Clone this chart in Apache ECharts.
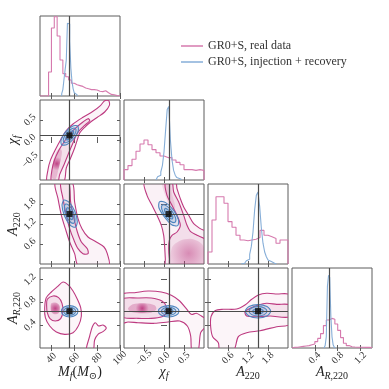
<!DOCTYPE html>
<html>
<head>
<meta charset="utf-8">
<script src="https://cdn.jsdelivr.net/npm/echarts@6/dist/echarts.min.js"></script>
<style>
html, body { margin: 0; padding: 0; background: #fff; }
#main { width: 389px; height: 389px; }
</style>
</head>
<body>
<div id="main"></div>
<script>
// parameters: M_f, chi_f, A_220, A_R,220
const paramRanges = [[30, 100], [-1, 1], [0, 2.4], [0, 1.4]];
const paramTicks = [[40, 60, 80, 100], [-0.5, 0, 0.5], [0.6, 1.2, 1.8], [0.4, 0.8, 1.2]];
const truthValues = [55.8, 0.115, 1.5, 0.645];

// 1D histograms, heights in % of panel height
const mfRealStart = 30, mfRealWidth = 2.5;
const mfRealCounts = [0, 0, 0, 30, 85, 99, 75, 45, 28, 24, 20, 16, 14, 13, 12, 10, 9, 8, 8, 7.5, 6, 5.5, 6.5, 4, 2, 1.5, 0.5, 0.3];
const mfInjStart = 49, mfInjWidth = 1;
const mfInjCounts = [3, 8, 21, 33, 45, 91, 90, 68, 35, 18, 9, 4, 2, 0.5];

const chiRealStart = -1, chiRealWidth = 0.1;
const chiRealCounts = [13, 18, 26, 36, 45, 50, 44, 38, 34, 30, 28, 28, 25, 22, 19, 13, 13, 12, 13, 12];
const chiInjStart = -0.2, chiInjWidth = 0.04;
const chiInjCounts = [2, 4, 6, 10, 18, 35, 62, 88, 92, 50, 25, 12, 6, 3, 1.5, 0.5];

const a220RealStart = 0, a220RealWidth = 0.12;
const a220RealCounts = [15, 55, 84, 84, 76, 53, 46, 36, 30, 29, 30, 31, 33, 42, 36, 34, 32, 26, 30, 30];
const a220InjStart = 1.0, a220InjWidth = 0.05;
const a220InjCounts = [0.5, 1, 2, 4, 6, 12, 22, 40, 68, 86, 90, 72, 45, 26, 15, 9, 5, 3, 2, 1, 0.5];

const arRealStart = 0, arRealWidth = 0.05;
const arRealCounts = [1, 1, 1.5, 2, 2.5, 3, 4, 5, 8, 12, 18, 28, 35, 37, 36, 30, 22, 13, 6, 3, 1.5, 1.2, 1, 1, 1, 0.8, 0.8, 0.5];
const arInjStart = 0.56, arInjWidth = 0.02;
const arInjCounts = [1, 3, 14, 77, 91, 88, 40, 14, 4, 1];

// 2D contours (data coordinates)
// M_f vs chi_f
const realOuter10 = [[36.4,-1.05],[37.0,-0.742],[39.3,-0.492],[43.4,-0.242],[48.1,0.008],[53.0,0.233],[58.9,0.4],[67.6,0.567],[76.4,0.717],[83.1,0.867],[86.6,0.983],[90.1,0.983],[90.7,0.867],[86.6,0.7],[80.2,0.567],[74.3,0.45],[69.1,0.317],[64.7,0.175],[62.7,0.008],[60.3,-0.2],[56.8,-0.45],[53.0,-0.7],[50.6,-1.05]];
const realMid10 = [[39.9,-1.05],[40.5,-0.742],[42.8,-0.492],[46.3,-0.267],[51.0,-0.05],[56.0,0.15],[61.8,0.317],[67.6,0.45],[72.0,0.533],[73.5,0.483],[69.1,0.367],[63.8,0.217],[60.9,0.067],[58.0,-0.133],[54.5,-0.367],[51.0,-0.617],[47.2,-0.867],[45.5,-1.05]];
const realCore10 = [[40.5,-0.95],[41.0,-0.617],[43.8,-0.33],[47.5,-0.2],[49.2,-0.3],[47.6,-0.56],[45.6,-0.8],[43.6,-0.98]];
const injOuter10 = [[62.9,0.352],[63.4,0.2225],[59.5,0.031],[53.6,-0.111],[49.0,-0.119],[48.5,0.011],[52.4,0.2025],[58.35,0.344]];
const injMid10 = [[61.0,0.289],[61.3,0.197],[58.4,0.0575],[54.1,-0.053],[50.9,-0.056],[50.6,0.037],[53.5,0.176],[57.8,0.28]];
const injInner10 = [[59.15,0.225],[59.24,0.168],[57.4,0.082],[54.7,0.015],[52.8,0.008],[52.7,0.065],[54.5,0.152],[57.2,0.218]];

// M_f vs A_220
const realOuter20 = [[43.4,2.45],[45.75,1.96],[48.7,1.46],[52.2,1.06],[55.96,0.66],[60.3,0.31],[63.8,-0.05],[90.1,-0.05],[88.9,0.31],[86.0,0.51],[79.3,0.66],[72.0,0.81],[66.75,1.06],[63.25,1.36],[60.3,1.86],[58.0,2.45]];
const realMid20 = [[48.1,2.45],[50.1,1.96],[53.0,1.46],[55.96,1.06],[59.75,0.71],[63.25,0.46],[67.6,0.31],[72.0,0.31],[71.4,0.46],[66.2,0.66],[62.7,0.96],[59.75,1.36],[56.8,1.86],[55.1,2.45]];
const injOuter20 = [[60.83,1.103],[62.64,1.2675],[60.54,1.574],[55.75,1.8435],[51.09,1.917],[49.28,1.7525],[51.38,1.446],[56.16,1.1765]];
const injMid20 = [[59.4,1.223],[60.67,1.339],[59.2,1.5555],[55.83,1.745],[52.53,1.797],[51.25,1.681],[52.72,1.4645],[56.09,1.275]];
const injInner20 = [[58.06,1.334],[58.78,1.4047],[57.85,1.5365],[55.81,1.6527],[53.86,1.686],[53.14,1.6153],[54.07,1.4835],[56.11,1.3673]];

// M_f vs A_R,220
const realOuter30 = [[50.1,1.155],[55.1,1.097],[58.9,0.997],[62.7,0.852],[65.6,0.706],[66.2,0.56],[63.8,0.396],[58.9,0.268],[51.6,0.239],[44.3,0.28],[38.5,0.385],[34.7,0.53],[34.1,0.706],[35.5,0.881],[39.9,0.98],[45.2,1.073]];
const realInner30 = [[36.4,0.852],[41.4,0.91],[46.3,0.881],[49.25,0.782],[50.1,0.647],[48.1,0.513],[43.4,0.472],[38.75,0.513],[36.4,0.618],[35.8,0.735]];
const realCore30 = [[39.9,0.782],[44.3,0.793],[47.2,0.735],[46.6,0.618],[42.8,0.589],[39.9,0.63],[39.3,0.706]];
const realHook30 = [[70.5,-0.05],[73.5,0.21],[75.8,0.373],[78.4,0.443],[81.3,0.385],[85.1,0.402],[88.0,0.35],[85.1,0.286],[80.75,0.239],[77.8,0.14],[76.4,-0.05]];
const injOuter30 = [[63.25,0.642],[61.1,0.572],[55.96,0.542],[50.8,0.572],[48.7,0.642],[50.8,0.712],[55.96,0.741],[61.1,0.712]];
const injMid30 = [[61.2,0.642],[59.66,0.592],[55.96,0.572],[52.25,0.592],[50.7,0.642],[52.25,0.691],[55.96,0.712],[59.66,0.691]];
const injInner30 = [[59.2,0.642],[58.23,0.611],[55.96,0.598],[53.7,0.611],[52.75,0.642],[53.7,0.672],[55.96,0.685],[58.23,0.672]];

// chi_f vs A_220
const realOuter21 = [[-0.483,2.45],[-0.425,2.06],[-0.3,1.76],[-0.175,1.46],[-0.067,1.16],[-0.008,0.86],[0.017,0.51],[0.033,0.16],[0.05,-0.05],[1.05,-0.05],[1.05,0.96],[0.908,1.06],[0.742,1.21],[0.617,1.46],[0.492,1.71],[0.408,1.96],[0.325,2.26],[0.283,2.45]];
const realMid21 = [[0.033,2.45],[0.075,2.06],[0.2,1.76],[0.325,1.46],[0.408,1.16],[0.325,0.96],[0.2,0.86],[0.133,0.71],[0.117,0.46],[0.133,0.16],[0.158,-0.05],[1.05,-0.05],[1.05,0.71],[0.825,0.86],[0.658,0.98],[0.575,1.16],[0.492,1.46],[0.367,1.86],[0.242,2.16],[0.2,2.45]];
const realBlob21 = [[0.2,-0.05],[0.2,0.5],[0.4,0.7],[0.7,0.75],[0.95,0.6],[1.05,0.3],[1.05,-0.05]];
const realBand21 = [[-0.05,2.45],[0.05,2.0],[0.2,1.6],[0.28,1.7],[0.2,2.1],[0.15,2.45]];
const injOuter21 = [[0.342,1.15],[0.3607,1.332],[0.237,1.618],[0.0423,1.841],[-0.108,1.87],[-0.127,1.688],[0.0167,1.402],[0.191,1.179]];
const injMid21 = [[0.277,1.254],[0.289,1.382],[0.2,1.585],[0.0625,1.744],[-0.043,1.766],[-0.055,1.638],[0.033,1.435],[0.171,1.276]];
const injInner21 = [[0.212,1.358],[0.217,1.432],[0.163,1.552],[0.0825,1.647],[0.022,1.662],[0.0165,1.588],[0.07,1.468],[0.151,1.373]];

// chi_f vs A_R,220
const realOuter31 = [[-1.05,0.933],[-0.733,0.968],[-0.4,0.997],[-0.067,0.98],[0.183,0.922],[0.392,0.822],[0.558,0.688],[0.683,0.589],[0.808,0.607],[0.933,0.56],[1.05,0.5],[1.05,0.385],[0.917,0.268],[0.85,-0.05],[0.7,-0.05],[0.667,0.21],[0.583,0.385],[0.392,0.472],[0.1,0.455],[-0.233,0.432],[-0.65,0.443],[-0.9,0.455],[-1.05,0.443]];
const realInner31 = [[-1.05,0.852],[-0.65,0.875],[-0.317,0.875],[-0.05,0.822],[0.058,0.723],[0.058,0.607],[-0.05,0.548],[-0.317,0.519],[-0.65,0.519],[-1.05,0.548]];
const realCore31 = [[-0.775,0.764],[-0.483,0.782],[-0.233,0.747],[-0.192,0.677],[-0.317,0.618],[-0.567,0.607],[-0.817,0.63],[-0.9,0.688]];
const injOuter31 = [[0.375,0.642],[0.3,0.572],[0.117,0.543],[-0.066,0.572],[-0.141,0.642],[-0.066,0.712],[0.117,0.741],[0.3,0.712]];
const injMid31 = [[0.3,0.642],[0.247,0.593],[0.117,0.572],[-0.013,0.593],[-0.066,0.642],[-0.013,0.692],[0.117,0.712],[0.247,0.692]];
const injInner31 = [[0.225,0.642],[0.194,0.611],[0.117,0.598],[0.04,0.611],[0.009,0.642],[0.04,0.673],[0.117,0.686],[0.194,0.673]];

// A_220 vs A_R,220
const realOuter32 = [[2.45,0.927],[2.06,0.945],[1.76,0.957],[1.51,0.927],[1.31,0.852],[1.11,0.752],[0.86,0.682],[0.46,0.677],[0.21,0.653],[0.09,0.548],[0.08,0.373],[0.14,0.198],[0.31,0.093],[0.36,-0.05],[0.76,-0.05],[0.91,0.198],[1.16,0.268],[1.56,0.303],[2.06,0.373],[2.45,0.42]];
const realInner32 = [[2.45,0.752],[2.06,0.764],[1.76,0.782],[1.51,0.752],[1.26,0.694],[1.11,0.636],[1.16,0.56],[1.46,0.548],[1.86,0.56],[2.45,0.548]];
const injOuter32 = [[1.88,0.642],[1.769,0.56],[1.5,0.525],[1.231,0.56],[1.12,0.642],[1.231,0.725],[1.5,0.759],[1.769,0.725]];
const injMid32 = [[1.77,0.642],[1.691,0.584],[1.5,0.56],[1.309,0.584],[1.23,0.642],[1.309,0.7],[1.5,0.724],[1.691,0.7]];
const injInner32 = [[1.66,0.642],[1.613,0.609],[1.5,0.595],[1.387,0.609],[1.34,0.642],[1.387,0.675],[1.5,0.689],[1.613,0.675]];

const REAL_NAME = 'GR0+S, real data';
const INJ_NAME = 'GR0+S, injection + recovery';

// colours / fonts
const PINK = '#bd3a80', PINK_HIST = '#d67aae', BLUE = '#4d86c0', BLUE_HIST = '#86aed8';
const TRUTH = '#4a4a4a', FRAME = '#5c5c5c';
const SERIF = '"Liberation Serif", "DejaVu Serif", serif';
const pinkA = a => 'rgba(189,58,128,' + a + ')';
const blueA = a => 'rgba(77,134,192,' + a + ')';
const softPink = (a0, a1) => ({ type: 'radial', x: 0.5, y: 0.5, r: 0.65,
  colorStops: [{ offset: 0, color: pinkA(a0) }, { offset: 1, color: pinkA(a1) }] });

function injShapes(o, m, i) {
  return [
    { pts: o, fill: blueA(0.12), stroke: BLUE },
    { pts: m, fill: blueA(0.16), stroke: BLUE },
    { pts: i, fill: blueA(0.3), stroke: BLUE }
  ];
}
const panelShapes = {
  '10': [
    { pts: realOuter10, fill: pinkA(0.06), stroke: PINK },
    { pts: realMid10, fill: pinkA(0.1), stroke: PINK },
    { pts: realCore10, fill: softPink(0.95, 0.25) }
  ].concat(injShapes(injOuter10, injMid10, injInner10)),
  '20': [
    { pts: realOuter20, fill: pinkA(0.06), stroke: PINK },
    { pts: realMid20, fill: pinkA(0.08), stroke: PINK }
  ].concat(injShapes(injOuter20, injMid20, injInner20)),
  '30': [
    { pts: realOuter30, fill: pinkA(0.05), stroke: PINK },
    { pts: realInner30, fill: pinkA(0.12), stroke: PINK },
    { pts: realCore30, fill: softPink(0.95, 0.3) },
    { pts: realHook30, fill: pinkA(0.03), stroke: PINK }
  ].concat(injShapes(injOuter30, injMid30, injInner30)),
  '21': [
    { pts: realOuter21, fill: pinkA(0.07), stroke: PINK },
    { pts: realMid21, fill: pinkA(0.1), stroke: PINK },
    { pts: realBlob21, fill: softPink(0.5, 0.1) },
    { pts: realBand21, fill: pinkA(0.14) }
  ].concat(injShapes(injOuter21, injMid21, injInner21)),
  '31': [
    { pts: realOuter31, fill: pinkA(0.05), stroke: PINK },
    { pts: realInner31, fill: pinkA(0.12), stroke: PINK },
    { pts: realCore31, fill: softPink(0.95, 0.3) }
  ].concat(injShapes(injOuter31, injMid31, injInner31)),
  '32': [
    { pts: realOuter32, fill: pinkA(0.05), stroke: PINK },
    { pts: realInner32, fill: pinkA(0.1), stroke: PINK }
  ].concat(injShapes(injOuter32, injMid32, injInner32))
};

const hists = [
  [[mfRealStart, mfRealWidth, mfRealCounts], [mfInjStart, mfInjWidth, mfInjCounts]],
  [[chiRealStart, chiRealWidth, chiRealCounts], [chiInjStart, chiInjWidth, chiInjCounts]],
  [[a220RealStart, a220RealWidth, a220RealCounts], [a220InjStart, a220InjWidth, a220InjCounts]],
  [[arRealStart, arRealWidth, arRealCounts], [arInjStart, arInjWidth, arInjCounts]]
];

function stepData(start, width, counts) {
  const d = [[start, 0]];
  counts.forEach((h, i) => d.push([start + i * width, h]));
  const end = start + counts.length * width;
  d.push([end, counts[counts.length - 1]]);
  d.push([end, 0]);
  return d;
}

const rich = {
  i: { fontFamily: SERIF, fontStyle: 'italic', fontSize: 14, lineHeight: 17, color: '#222' },
  n: { fontFamily: SERIF, fontSize: 14, lineHeight: 17, color: '#222' },
  s: { fontFamily: SERIF, fontSize: 10, lineHeight: 10, verticalAlign: 'bottom', color: '#222' },
  si: { fontFamily: SERIF, fontStyle: 'italic', fontSize: 10, lineHeight: 10, verticalAlign: 'bottom', color: '#222' }
};
const axisNames = [
  '{i|M}{si|f}{n|(}{i|M}{s|⊙}{n|)}',
  '{i|χ}{si|f}',
  '{i|A}{s|220}',
  '{i|A}{si|R}{s|,220}'
];
const fmt = c => (c === 0 ? v => String(v) : v => (v < 0 ? '−' : '') + Math.abs(v).toFixed(1));

const grids = [], xAxes = [], yAxes = [], series = [];
let k = 0;
for (let r = 0; r < 4; r++) {
  for (let c = 0; c <= r; c++) {
    grids.push({ left: 40 + 84 * c, top: 16 + 84 * r, width: 80, height: 80,
      show: true, borderColor: FRAME, borderWidth: 1 });
    const tick = ticks => ({ show: true, inside: true, length: 3, lineStyle: { color: FRAME, width: 1 }, customValues: ticks });
    const label = (show, c2) => ({ show: show, customValues: paramTicks[c2], formatter: fmt(c2), rotate: 45,
      align: 'center', verticalAlign: 'middle', margin: 10, fontFamily: SERIF, fontSize: 10, color: '#333' });
    const xr = paramRanges[c];
    xAxes.push({ type: 'value', gridIndex: k, min: xr[0], max: xr[1], position: 'bottom',
      axisLine: { show: false }, splitLine: { show: false },
      axisTick: tick(paramTicks[c]), axisLabel: label(r === 3, c),
      name: r === 3 ? axisNames[c] : '', nameLocation: 'middle', nameGap: 16, nameMoveOverlap: false,
      nameTextStyle: { rich: rich } });
    xAxes.push({ type: 'value', gridIndex: k, min: xr[0], max: xr[1], position: 'top',
      axisLine: { show: false }, splitLine: { show: false },
      axisTick: tick(paramTicks[c]), axisLabel: { show: false } });
    if (r === c) {
      yAxes.push({ type: 'value', gridIndex: k, min: 0, max: 100, show: false });
      yAxes.push({ type: 'value', gridIndex: k, min: 0, max: 100, show: false });
    } else {
      const yr = paramRanges[r];
      yAxes.push({ type: 'value', gridIndex: k, min: yr[0], max: yr[1], position: 'left',
        axisLine: { show: false }, splitLine: { show: false },
        axisTick: tick(paramTicks[r]), axisLabel: label(c === 0, r),
        name: c === 0 ? axisNames[r] : '', nameLocation: 'middle', nameRotate: 90, nameGap: 18,
        nameMoveOverlap: false, nameTextStyle: { rich: rich } });
      yAxes.push({ type: 'value', gridIndex: k, min: yr[0], max: yr[1], position: 'right',
        axisLine: { show: false }, splitLine: { show: false },
        axisTick: tick(paramTicks[r]), axisLabel: { show: false } });
    }

    const truthLine = { silent: true, symbol: ['none', 'none'], label: { show: false },
      lineStyle: { color: TRUTH, width: 1.2, type: 'solid' }, animation: false };

    if (r === c) {
      const h = hists[c];
      series.push({ name: c === 0 ? REAL_NAME : 'real-' + c, type: 'line', step: 'end',
        xAxisIndex: 2 * k, yAxisIndex: 2 * k, data: stepData(h[0][0], h[0][1], h[0][2]),
        showSymbol: false, symbol: 'none', lineStyle: { color: PINK_HIST, width: 1.1 },
        itemStyle: { color: PINK_HIST }, clip: true, animation: false });
      series.push({ name: c === 0 ? INJ_NAME : 'inj-' + c, type: 'line', step: 'end',
        xAxisIndex: 2 * k, yAxisIndex: 2 * k, data: stepData(h[1][0], h[1][1], h[1][2]),
        showSymbol: false, symbol: 'none', lineStyle: { color: BLUE_HIST, width: 1.1 },
        itemStyle: { color: BLUE_HIST }, clip: true, animation: false,
        markLine: Object.assign({ data: [{ xAxis: truthValues[c] }] }, truthLine) });
    } else {
      const shapes = panelShapes['' + r + c];
      series.push({ type: 'custom', xAxisIndex: 2 * k, yAxisIndex: 2 * k, clip: true, animation: false,
        data: shapes.map(s => s.pts[0]),
        renderItem: (params, api) => {
          const s = shapes[params.dataIndex];
          return { type: 'polygon',
            shape: { points: s.pts.map(p => api.coord(p)), smooth: 0.3 },
            style: { fill: s.fill, stroke: s.stroke || null, lineWidth: s.stroke ? 1.1 : 0 } };
        } });
      series.push({ type: 'scatter', xAxisIndex: 2 * k, yAxisIndex: 2 * k, animation: false,
        data: [[truthValues[c], truthValues[r]]], symbol: 'rect', symbolSize: 6,
        itemStyle: { color: '#0a0a0a' }, z: 5,
        markLine: Object.assign({ data: [{ xAxis: truthValues[c] }, { yAxis: truthValues[r] }] }, truthLine) });
    }
    k++;
  }
}

const chart = echarts.init(document.getElementById('main'), null, { renderer: 'canvas' });
chart.setOption({
  backgroundColor: '#fff',
  animation: false,
  legend: { data: [REAL_NAME, INJ_NAME], left: 176, top: 35, orient: 'vertical',
    icon: 'rect', itemWidth: 22, itemHeight: 1.5, itemGap: 4, selectedMode: false,
    textStyle: { fontFamily: SERIF, fontSize: 12, color: '#333', lineHeight: 11 } },
  grid: grids,
  xAxis: xAxes,
  yAxis: yAxes,
  series: series
});
</script>
</body>
</html>
